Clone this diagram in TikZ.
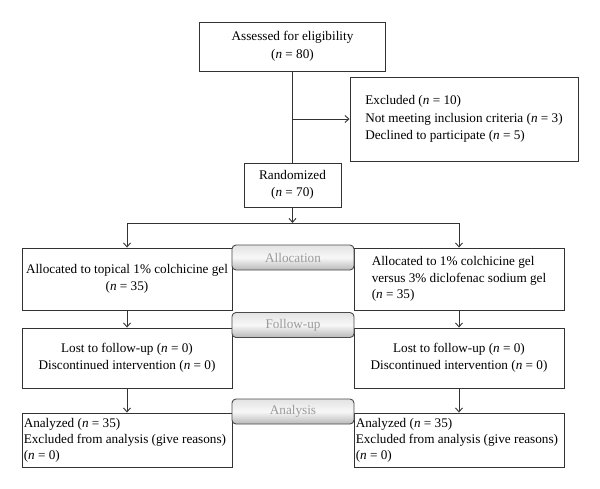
\documentclass[tikz,border=0pt]{standalone}
\usepackage{fontspec}
\setmainfont{Liberation Serif}
\usetikzlibrary{arrows.meta}
\definecolor{ln}{HTML}{333333}
\definecolor{tagtxt}{HTML}{9A9A9A}
\definecolor{tagline}{HTML}{4A4A4A}
\begin{document}
\begin{tikzpicture}[x=1pt,y=-1pt,
  box/.style={draw=ln, line width=0.9pt, inner sep=0pt, align=center,
    font=\fontsize{13.2}{17.5}\selectfont},
  txt/.style={inner sep=0pt, align=left, font=\fontsize{13.2}{16}\selectfont},
  tag/.style={draw=tagline, line width=0.9pt, rounded corners=4pt, inner sep=0pt,
    top color=gray!22, bottom color=gray!55, middle color=gray!6,
    text=tagtxt, font=\fontsize{13.2}{16}\selectfont,
    minimum width=122pt, minimum height=25pt},
  conn/.style={draw=ln, line width=0.9pt},
  arr/.style={conn, -{Straight Barb[length=4pt,width=7pt]}}
]
\useasboundingbox (0,0) rectangle (600,488);
\fill[white] (0,0) rectangle (600,488);

\node[box, minimum width=186pt, minimum height=49pt] (assess) at (292.5,46.5)
  {Assessed for eligibility\\(\textit{n} = 80)};
\node[box, minimum width=228pt, minimum height=84pt, align=left] (excl) at (464,119)
  {Excluded (\textit{n} = 10)\\Not meeting inclusion criteria (\textit{n} = 3)\\Declined to participate (\textit{n} = 5)};
\node[box, minimum width=97pt, minimum height=44pt] (rand) at (292.5,185)
  {Randomized\\(\textit{n} = 70)};
\coordinate (split) at (292.5,223);

\node[box, minimum width=210pt, minimum height=62pt] (alloc1) at (127,279)
  {Allocated to topical 1\% colchicine gel\\(\textit{n} = 35)};
\node[box, minimum width=210pt, minimum height=62pt, align=left,
  font=\fontsize{13.2}{16.5}\selectfont] (alloc2) at (459,279)
  {Allocated to 1\% colchicine gel\\versus 3\% diclofenac sodium gel\\(\textit{n} = 35)};

\node[box, minimum width=210pt, minimum height=60pt] (follow1) at (127,358)
  {Lost to follow-up (\textit{n} = 0)\\Discontinued intervention (\textit{n} = 0)};
\node[box, minimum width=210pt, minimum height=60pt] (follow2) at (459,358)
  {Lost to follow-up (\textit{n} = 0)\\Discontinued intervention (\textit{n} = 0)};

\node[box, minimum width=210pt, minimum height=54pt] (anal1) at (127,440) {};
\node[txt, anchor=west] (anal1t) at ([xshift=2pt]anal1.west)
  {Analyzed (\textit{n} = 35)\\Excluded from analysis (give reasons)\\(\textit{n} = 0)};
\node[box, minimum width=210pt, minimum height=54pt] (anal2) at (459,440) {};
\node[txt, anchor=west] (anal2t) at ([xshift=2pt]anal2.west)
  {Analyzed (\textit{n} = 35)\\Excluded from analysis (give reasons)\\(\textit{n} = 0)};

\node[tag] (tagalloc) at (293,257.5) {Allocation};
\node[tag] (tagfollow) at (293,325) {Follow-up};
\node[tag] (taganal) at (293,411.5) {Analysis};

\draw[conn] (assess.south) -- (rand.north);
\draw[arr] (assess.south |- excl.west) -- (excl.west);
\draw[arr] (rand.south) -- (split);
\draw[conn] (alloc1.north |- split) -- (alloc2.north |- split);
\draw[arr] (alloc1.north |- split) -- (alloc1.north);
\draw[arr] (alloc2.north |- split) -- (alloc2.north);
\draw[arr] (alloc1.south) -- (follow1.north);
\draw[arr] (alloc2.south) -- (follow2.north);
\draw[arr] (follow1.south) -- (anal1.north);
\draw[arr] (follow2.south) -- (anal2.north);
\end{tikzpicture}
\end{document}
